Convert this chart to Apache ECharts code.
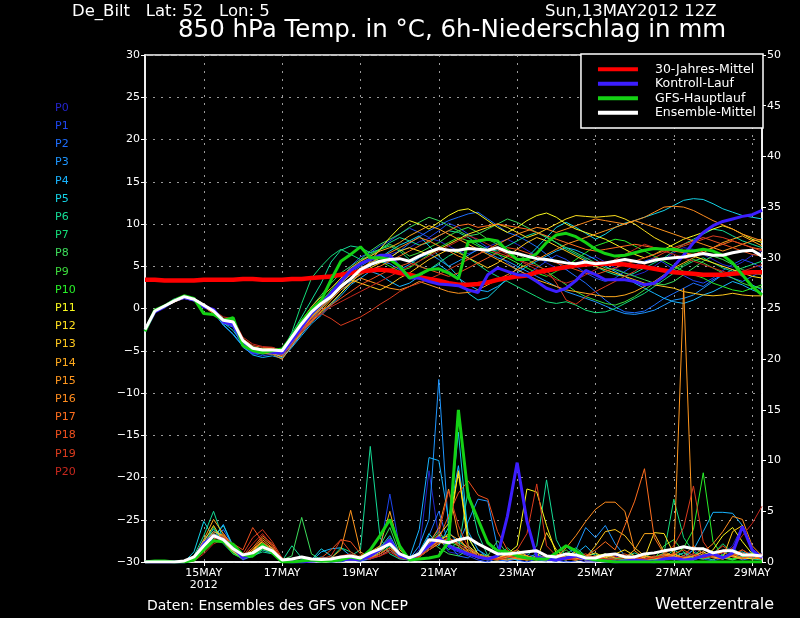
<!DOCTYPE html>
<html><head><meta charset="utf-8">
<script src="https://cdn.jsdelivr.net/npm/echarts@6/dist/echarts.min.js"></script>
<style>html,body{margin:0;padding:0;background:#000;}#c{width:800px;height:618px;}</style>
</head><body><div id="c"></div>
<script>
// ---- time axis: 13 MAY 2012 12Z, every 6 h ----
const startDay = 13, startHour = 12, stepHours = 6, nSteps = 64;
const categories = [];
for (let i = 0; i < nSteps; i++) {
  const h = startHour + i * stepHours;
  categories.push((startDay + Math.floor(h / 24)) + 'MAY ' + (h % 24) + 'Z');
}
const firstLabelIndex = 6, labelEvery = 8, yearLabel = '2012';

const memberNames = ['P0','P1','P2','P3','P4','P5','P6','P7','P8','P9','P10','P11','P12','P13','P14','P15','P16','P17','P18','P19','P20'];
const memberColors = ['#2424cc','#1e46f0','#1e6eff','#1e96ff','#18b4ff','#14d2e6','#14dc96','#14dc78','#3cdc5a','#3cdc3c','#28f028','#fafa1e','#ffe11e','#ffc81e','#ffaa1e','#ff961e','#ff8c1e','#ff6e1e','#f0501e','#dc3c1e','#c8281e'];

// ---- 850 hPa temperature (°C) ----
const tempClimate = [3.4,3.4,3.3,3.3,3.3,3.3,3.4,3.4,3.4,3.4,3.5,3.5,3.4,3.4,3.4,3.5,
 3.5,3.6,3.7,3.8,4.0,4.2,4.4,4.5,4.6,4.5,4.2,4.0,3.7,3.5,3.3,3.0,
 2.8,2.8,2.9,3.1,3.4,3.6,3.8,3.9,4.3,4.5,4.7,4.9,5.1,5.2,5.3,5.3,
 5.3,5.2,5.0,4.9,4.7,4.5,4.3,4.2,4.1,4.0,4.0,4.0,4.1,4.2,4.3,4.3];
const tempControl = [-2.6,-0.4,0.2,1.0,1.3,1.0,0.2,-0.1,-1.6,-1.9,-4.2,-5.2,-5.0,-5.2,-5.3,-3.8,
 -2.2,-0.6,0.6,1.8,3.2,4.5,5.3,5.8,6.3,6.3,4.9,3.6,3.6,3.2,2.9,2.8,
 2.7,2.2,1.9,4.0,4.8,4.4,4.0,3.9,3.2,2.4,2.0,2.4,3.3,4.5,4.0,3.4,
 3.4,3.4,3.2,2.8,3.0,3.8,5.0,6.3,7.8,9.0,9.8,10.3,10.6,10.9,11.1,11.6];
const tempGfs = [-2.7,-0.2,0.3,1.0,1.5,1.2,-0.6,-0.7,-1.4,-1.1,-4.4,-5.0,-5.2,-5.0,-4.8,-3.3,
 -1.5,-0.1,1.0,3.4,5.6,6.4,7.3,6.0,6.0,5.8,5.0,3.6,4.0,4.6,4.7,4.2,
 3.5,7.9,8.0,8.2,8.0,6.8,5.8,5.8,6.5,7.8,8.7,8.9,8.5,7.8,7.0,6.5,
 6.2,6.3,6.6,6.9,7.1,7.0,7.0,6.8,6.8,7.0,6.8,6.3,5.4,4.0,2.6,1.6];
const tempMean = [-2.5,-0.3,0.3,0.9,1.4,1.1,0.4,-0.3,-1.4,-1.6,-3.8,-4.7,-4.9,-4.9,-5.0,-3.4,
 -1.8,-0.4,0.6,1.4,2.6,3.5,4.6,5.2,5.6,5.8,5.9,5.6,6.2,6.7,7.1,6.9,
 6.9,7.1,7.0,6.9,7.2,6.7,6.5,6.2,5.9,5.8,5.6,5.4,5.3,5.5,5.3,5.4,
 5.6,5.8,5.6,5.4,5.7,5.9,6.0,6.1,6.3,6.5,6.3,6.3,6.6,6.8,6.9,6.2];

const tempP0 = [-2.6,-0.5,0.2,0.8,1.3,1.0,0.5,-0.2,-1.3,-1.8,-4.0,-4.9,-5.1,-5.0,-5.2,-3.6,
 -2.0,-0.5,0.4,1.2,2.4,3.4,4.5,5.5,6.0,6.4,6.8,7.2,7.9,8.3,8.0,7.4,
 6.8,6.5,6.9,7.3,7.8,8.2,7.6,6.9,6.2,5.4,4.8,4.6,5.2,5.9,6.1,5.5,
 4.8,4.2,3.9,4.3,5.0,5.8,6.6,7.2,7.0,6.4,5.8,5.2,4.9,5.5,6.3,6.8];
const tempP1 = [-2.5,-0.4,0.3,1.0,1.5,1.2,0.3,-0.5,-1.6,-2.1,-4.3,-5.3,-5.6,-5.4,-5.5,-4.0,
 -2.6,-1.2,0.2,1.6,3.4,5.0,6.1,6.6,7.4,8.0,8.8,9.5,9.0,8.4,9.2,10.1,
 9.6,8.8,8.0,7.2,6.5,5.4,4.6,4.0,4.8,5.6,6.3,5.8,5.0,4.2,3.6,3.2,
 3.6,4.4,5.1,5.6,6.0,5.4,4.6,3.9,3.3,3.0,3.6,4.5,5.2,5.8,5.4,4.8];
const tempP2 = [-2.7,-0.3,0.4,1.1,1.4,1.0,0.2,-0.6,-1.8,-2.2,-4.6,-5.4,-5.2,-5.1,-5.6,-4.3,
 -2.8,-1.4,0.0,1.3,2.8,4.2,5.0,5.7,6.3,6.0,6.8,7.7,8.5,9.2,9.8,10.4,
 10.8,11.2,11.4,10.6,9.8,9.0,8.6,8.0,7.3,6.4,5.5,4.6,3.8,3.0,2.0,1.0,
 0.2,-0.4,-0.5,-0.3,0.4,1.2,1.8,2.4,3.0,2.6,3.4,4.0,3.6,3.2,3.8,4.4];
const tempP3 = [-2.6,-0.4,0.2,0.9,1.3,1.1,0.4,-0.4,-2.0,-3.0,-4.4,-5.0,-5.0,-5.3,-5.8,-4.5,
 -3.0,-1.6,-0.6,0.6,1.8,3.2,4.0,5.1,5.6,5.3,4.6,5.2,6.0,6.5,5.8,5.0,
 5.6,6.3,7.0,6.6,6.0,5.6,5.0,4.4,3.8,3.2,2.6,2.0,1.6,1.2,0.8,0.3,
 -0.2,-0.6,-0.7,-0.5,-0.2,0.4,1.0,1.2,1.6,2.4,3.2,4.0,4.6,3.8,2.8,2.2];
const tempP4 = [-2.5,-0.2,0.4,0.9,1.3,1.0,0.3,-0.4,-1.9,-3.1,-4.5,-5.5,-5.8,-5.6,-5.9,-4.6,
 -3.2,-1.8,-0.8,0.4,1.5,2.8,3.6,4.4,4.0,3.2,2.6,3.0,3.8,4.6,5.2,4.4,
 3.6,2.8,2.2,2.0,2.6,3.4,4.2,5.0,5.6,6.2,6.8,7.2,6.9,6.4,5.8,5.0,
 4.4,3.8,3.0,2.4,1.8,1.2,0.8,0.6,1.0,1.6,2.0,2.6,3.2,2.8,2.2,1.8];
const tempP5 = [-2.6,-0.3,0.3,0.8,1.2,0.9,0.2,-0.5,-1.7,-2.6,-4.2,-5.1,-5.4,-5.2,-5.3,-3.8,
 -2.2,-0.8,0.4,1.8,3.0,4.0,4.6,5.3,6.0,6.8,7.5,8.0,8.6,7.4,6.2,5.0,
 3.8,1.8,1.0,1.3,2.4,3.6,4.8,6.0,7.2,8.4,9.6,10.2,9.6,8.9,8.2,8.8,
 9.6,10.1,10.4,10.8,11.2,11.6,12.2,12.8,13.0,12.9,12.4,11.8,11.4,11.0,10.8,10.6];
const tempP6 = [-2.4,-0.2,0.4,1.0,1.5,1.2,0.5,-0.2,-1.2,-1.4,-3.6,-4.5,-4.8,-4.8,-4.9,-3.0,
 -1.0,1.0,3.0,5.5,6.9,7.4,7.2,6.6,7.0,7.8,8.4,8.0,7.5,7.8,8.6,9.2,
 9.0,8.4,7.6,7.0,6.8,7.4,8.0,8.6,9.0,8.5,7.8,7.0,6.4,5.8,5.0,4.4,
 4.0,3.8,4.2,4.8,5.4,6.0,6.8,7.6,8.2,8.8,9.4,9.2,8.6,8.0,7.6,7.2];
const tempP7 = [-2.5,-0.3,0.3,0.9,1.4,1.2,0.5,-0.3,-1.3,-1.5,-3.7,-4.6,-4.9,-5.0,-5.1,-2.8,
 0.6,3.6,5.0,6.2,7.0,6.4,5.8,6.2,7.0,7.4,6.8,5.8,5.0,4.6,5.4,6.2,
 6.8,6.0,5.2,4.4,3.8,3.2,2.6,2.0,1.4,0.8,0.6,0.8,0.4,-0.2,-0.5,-0.4,
 0.0,0.6,1.2,1.8,2.6,3.4,4.2,5.0,5.6,6.0,5.4,4.8,4.4,4.8,5.2,5.6];
const tempP8 = [-2.6,-0.4,0.2,0.8,1.3,1.1,0.4,-0.4,-1.5,-1.8,-3.9,-4.8,-5.0,-4.9,-5.3,-3.6,
 -1.6,0.2,1.6,3.0,4.2,5.0,5.8,6.8,7.6,8.2,8.8,9.6,10.2,10.8,10.4,9.8,
 9.2,8.6,8.8,9.4,10.0,10.6,10.2,9.6,9.0,8.4,7.8,7.2,6.6,6.0,5.4,4.8,
 4.6,4.2,3.8,3.4,3.0,2.8,3.2,4.0,4.8,5.6,6.2,5.8,5.2,4.6,4.2,4.0];
const tempP9 = [-2.5,-0.2,0.4,1.0,1.4,1.1,0.3,-0.4,-1.4,-1.7,-3.9,-4.8,-5.0,-5.0,-5.4,-3.8,
 -2.2,-0.6,0.8,2.0,3.2,4.4,5.6,6.4,7.0,7.6,7.0,6.2,6.6,7.2,7.8,8.6,
 9.2,9.6,9.0,8.2,7.6,7.0,6.4,5.8,5.2,4.4,3.6,2.8,2.0,1.4,1.0,0.6,
 0.4,0.8,1.4,2.2,3.0,3.8,4.6,5.2,5.8,5.4,4.8,4.2,3.6,3.0,2.6,2.4];
const tempP10 = [-2.4,-0.2,0.3,0.9,1.4,1.2,0.5,-0.2,-1.2,-1.5,-3.7,-4.6,-4.8,-4.9,-5.1,-3.5,
 -1.9,-0.4,0.8,2.2,3.6,4.8,5.4,6.0,5.6,5.0,4.4,4.8,5.6,6.4,7.2,7.8,
 8.4,8.0,7.4,6.8,6.4,6.0,5.4,4.8,4.2,3.8,4.4,5.0,5.8,6.6,7.4,7.8,
 8.2,8.0,7.4,6.8,6.2,5.6,5.0,4.4,4.0,3.6,3.0,2.6,2.2,2.0,2.4,2.8];
const tempP11 = [-2.6,-0.3,0.3,0.9,1.4,1.1,0.3,-0.5,-1.5,-1.9,-4.1,-5.0,-5.2,-5.1,-5.5,-4.1,
 -2.8,-1.6,-0.4,0.6,1.8,3.0,4.2,5.6,7.0,8.4,9.6,10.4,10.0,9.4,10.2,11.0,
 11.6,11.8,11.2,10.4,9.6,9.0,9.6,10.4,11.0,11.3,10.8,10.0,9.4,9.0,8.6,8.2,
 7.6,7.0,6.4,6.0,6.4,7.0,7.6,8.2,8.6,9.0,9.4,9.8,9.4,8.8,8.2,7.8];
const tempP12 = [-2.5,-0.4,0.3,1.0,1.5,1.2,0.4,-0.3,-1.4,-1.7,-3.9,-4.8,-5.0,-5.1,-5.3,-3.9,
 -2.4,-1.0,0.2,1.6,2.8,3.6,4.2,4.8,5.4,6.0,6.8,7.2,6.8,6.4,7.0,7.6,
 8.2,8.8,9.2,9.6,10.0,9.6,9.0,8.4,8.8,9.4,10.0,10.6,11.0,10.9,10.8,10.9,
 11.0,10.6,10.0,9.2,8.4,7.8,7.2,6.6,6.2,5.8,5.4,5.0,4.6,4.2,3.8,3.6];
const tempP13 = [-2.6,-0.3,0.2,0.8,1.3,1.0,0.3,-0.4,-1.6,-1.8,-4.0,-4.9,-5.2,-5.3,-5.7,-4.0,
 -2.5,-1.1,0.0,1.2,2.4,3.4,3.0,2.6,2.2,2.8,3.6,4.2,5.0,5.8,6.4,7.0,
 6.6,6.0,5.4,4.8,5.4,6.2,7.0,7.8,8.4,8.0,7.4,6.8,6.2,5.6,5.0,4.6,
 4.2,3.8,3.4,3.0,2.8,2.6,2.4,2.0,1.8,1.6,1.5,1.6,1.8,1.6,1.5,1.5];
const tempP14 = [-2.5,-0.3,0.3,0.9,1.4,1.1,0.4,-0.3,-1.4,-1.6,-3.8,-4.6,-4.8,-4.7,-5.0,-3.2,
 -1.4,0.2,1.4,2.4,3.6,4.8,5.6,6.2,6.8,7.2,7.8,8.6,9.2,9.8,9.4,8.8,
 8.2,7.6,7.0,6.4,5.8,5.2,4.6,4.0,3.4,3.0,2.6,2.2,2.0,1.8,1.6,1.4,
 1.4,1.6,2.0,2.6,3.2,4.0,4.8,5.4,6.0,6.6,7.2,7.8,8.2,8.6,8.0,7.4];
const tempP15 = [-2.6,-0.4,0.2,0.8,1.3,1.0,0.2,-0.6,-1.7,-2.0,-4.2,-5.1,-5.3,-5.4,-6.0,-4.4,
 -2.9,-1.5,-0.3,1.0,2.2,3.0,3.6,3.2,2.8,2.4,2.2,2.6,3.2,2.8,2.4,2.0,
 1.8,1.9,2.2,2.8,3.4,4.0,4.6,5.2,5.8,6.4,7.0,7.6,8.0,8.4,8.8,9.2,
 9.6,10.0,10.4,10.0,9.6,9.2,8.8,8.4,8.0,7.6,7.2,6.8,7.2,7.6,8.0,8.2];
const tempP16 = [-2.5,-0.3,0.3,0.9,1.4,1.2,0.5,-0.2,-1.3,-1.5,-3.7,-4.6,-4.9,-5.0,-5.2,-3.7,
 -2.0,-0.6,0.6,1.8,3.0,4.0,4.8,5.4,6.0,6.6,7.2,7.8,8.4,8.0,7.4,6.8,
 6.2,5.8,6.4,7.0,7.6,8.2,8.8,9.2,9.6,9.4,9.0,9.4,9.8,10.2,10.6,10.4,
 10.2,10.0,10.4,10.8,11.4,12.0,12.1,12.0,11.6,11.0,10.4,9.9,9.4,8.8,8.4,8.0];
const tempP17 = [-2.6,-0.4,0.2,0.9,1.3,1.0,0.3,-0.4,-1.5,-1.7,-3.9,-4.8,-5.1,-5.1,-5.4,-3.9,
 -2.4,-1.0,0.2,1.4,2.6,3.4,4.0,4.6,5.0,5.6,6.2,6.8,7.4,8.0,8.6,9.2,
 9.8,10.0,9.6,9.8,10.0,9.8,9.6,9.4,9.0,8.6,8.2,7.8,7.4,7.0,6.8,7.0,
 7.2,7.4,7.6,7.4,7.2,7.0,6.8,6.6,6.4,6.8,7.2,7.6,8.0,7.6,7.2,7.0];
const tempP18 = [-2.5,-0.3,0.2,0.8,1.2,0.9,0.2,-0.5,-1.2,-1.4,-3.6,-4.4,-4.6,-4.6,-5.0,-3.8,
 -2.6,-1.4,-0.2,0.4,1.2,2.0,2.8,3.4,4.0,4.6,5.0,5.4,5.0,4.6,4.2,3.8,
 4.2,4.8,5.4,6.0,6.6,7.2,7.0,6.6,6.2,5.8,5.4,5.0,4.6,4.2,4.0,4.4,
 4.8,5.2,5.6,6.0,6.4,6.8,7.2,7.6,8.0,8.4,8.0,7.6,7.2,6.8,6.4,6.2];
const tempP19 = [-2.6,-0.4,0.2,0.8,1.3,1.0,0.3,-0.3,-1.4,-1.6,-3.8,-4.8,-5.0,-5.0,-5.6,-4.2,
 -2.6,-1.2,-0.6,-1.2,-2.0,-1.5,-1.0,-0.3,0.5,1.2,2.0,2.6,3.0,3.5,4.0,4.6,
 5.2,5.8,6.4,7.0,6.6,6.2,5.8,5.4,5.0,4.6,3.0,1.0,0.5,1.4,2.0,2.6,
 3.2,3.8,4.4,5.2,6.0,6.6,7.0,7.4,7.8,8.2,8.6,8.4,8.0,7.6,7.2,6.8];
const tempP20 = [-2.5,-0.3,0.3,0.9,1.3,1.1,0.4,-0.2,-1.0,-1.2,-3.4,-4.2,-4.5,-4.6,-5.0,-3.8,
 -2.8,-1.6,-0.6,0.2,0.8,1.4,2.0,2.6,3.2,3.8,4.4,5.0,5.6,6.2,6.8,7.4,
 8.0,8.6,8.2,7.6,7.0,6.4,5.8,5.2,4.6,4.0,3.4,3.0,3.4,4.0,4.6,5.2,
 5.8,6.4,7.0,7.6,7.2,6.8,6.4,6.0,5.6,5.2,4.8,4.4,4.0,4.4,4.8,5.2];

// ---- 6h precipitation (mm) ----
const rainControl = [0,0,0,0,0,0.3,1.8,2.6,2.2,1.4,0.4,0.8,1.6,1.0,0.1,0,
 0,0.1,0.2,0.1,0.2,0.3,0.2,0.6,1.2,2.2,0.6,0.3,0.8,1.6,2.4,1.6,
 1.2,0.8,0.5,0.3,0.6,4.5,9.8,4.0,0.5,0.3,0.2,0.4,0.6,0.3,0.2,0.1,
 0,0.1,0.2,0.1,0,0.3,0.4,0.2,0.3,0.6,0.8,0.4,0.9,3.5,1.2,0.4];
const rainGfs = [0,0.1,0.1,0,0,0.2,1.2,2.1,2.0,1.75,0.7,0.6,1.75,0.9,0,0,
 0.1,0.2,0.1,0.1,0.2,0.5,0.3,1.2,2.6,4.2,1.6,0.2,0.3,0.4,0.6,2.0,
 15.0,6.5,4.2,1.9,1.1,1.0,0.6,0.4,0.3,0.3,0.9,1.6,1.1,0.4,0.2,0.1,
 0,0,0,0,0,0,0,0,0,0,0,0,0,0,0,0];
const rainMean = [0,0,0,0,0.1,0.5,1.6,2.6,2.2,1.3,0.7,0.9,1.5,1.1,0.2,0.3,
 0.5,0.3,0.25,0.3,0.5,0.6,0.4,0.9,1.3,1.8,0.8,0.4,0.8,2.2,2.1,1.9,
 2.2,2.4,1.8,1.3,0.8,0.8,0.9,1.0,1.1,0.6,0.5,0.8,0.7,0.4,0.4,0.7,
 0.8,0.5,0.5,0.8,0.9,1.1,1.25,1.5,1.3,1.3,0.9,1.1,1.1,0.7,0.7,0.6];

const rainP0 = [0,0,0,0,0,0.3,1.5,2.6,2.0,1.2,0.4,0.8,1.4,1.0,0.2,0,
 0.2,0,0,0.1,0.3,0.5,0.2,0.6,1.0,1.8,0.6,0.2,1.2,9.0,2.4,1.0,
 0.8,1.6,0.6,0.2,0.3,0.1,0.4,0.8,0.4,0.2,0.1,0.5,0.3,0,0,0.2,
 0.6,0.2,0,0.1,0.4,0.8,0.3,0.6,1.2,0.4,0.2,0.8,1.6,3.6,1.0,0.3];
const rainP1 = [0,0,0,0,0,0.5,2.0,3.0,2.4,1.0,0.2,0.6,1.2,0.8,0,0,
 0,0.1,0.2,0,0,0.3,0.2,0.4,1.2,6.7,1.4,0.3,0.6,2.0,3.2,1.4,
 1.0,0.6,0.2,0,0.4,0.8,0.2,0,0.3,0.6,0.2,0,0.1,0.6,0.2,0,
 0,0.2,0.4,0.1,0,0.6,0.2,0.4,0.8,0.3,0.1,0.4,0.9,0.4,1.2,0.6];
const rainP2 = [0,0,0,0,0,0.4,1.8,2.2,3.2,1.6,0.5,1.0,1.6,1.2,0.2,0,
 0.1,0.3,0.1,0,0.2,0.2,0.1,0.3,0.6,1.2,0.4,0.2,0.8,2.6,5.0,1.8,
 0.6,0.4,1.2,0.4,0.2,0.1,0.3,0.6,0.2,0.1,0.8,1.6,0.6,0.3,0.2,0.1,
 0.2,0.5,0.2,0,0.3,0.7,0.4,0.2,0.6,1.0,0.5,0.3,0.6,0.2,0.4,0.9];
const rainP3 = [0,0,0,0,0,0.2,1.4,2.4,3.7,1.4,0.3,0.7,1.8,1.3,0.1,0,
 0,0.2,0.5,0.3,0.1,0.2,0.3,0.8,1.4,2.6,0.8,0.3,1.6,4.2,18.0,3.0,
 1.8,4.0,6.2,6.0,1.4,0.4,0.2,0.3,0.6,0.2,0.1,0.4,1.2,3.4,2.4,3.6,
 1.8,0.6,0.2,0.3,0.5,0.8,0.4,0.3,0.2,0.6,1.0,0.5,0.2,0.6,0.4,0.3];
const rainP4 = [0,0,0,0,0,0.4,2.2,3.2,2.6,1.5,0.6,0.9,1.6,1.4,0.2,0,
 0,0.1,1.0,1.3,1.4,0.6,0.2,0.4,1.0,2.0,0.6,0.4,3.2,10.3,10.0,4.2,
 9.5,3.0,1.2,0.6,0.3,0.2,0.5,0.4,0.2,0.6,0.3,0.2,0.8,1.6,0.6,0.4,
 0.3,0.2,0.6,0.4,0.2,0.3,0.8,0.4,1.2,3.0,4.9,4.9,4.8,3.6,1.0,0.4];
const rainP5 = [0,0,0,0,0,1.0,4.0,2.4,3.6,1.6,0.4,1.0,1.8,1.2,0.3,0,
 0.1,0.2,1.3,0.6,0.2,0.3,0.2,0.6,1.4,1.6,0.4,0.2,1.0,2.8,1.6,3.4,
 12.8,2.4,0.8,0.3,0.2,0.5,0.2,0.4,0.8,0.3,0.2,0.6,0.4,0.2,0.5,0.8,
 0.4,0.2,0.3,0.6,0.3,0.2,0.5,0.9,0.4,0.3,0.6,0.4,0.8,1.0,0.6,0.4];
const rainP6 = [0,0,0,0,0,0.6,2.6,5.0,2.2,1.0,0.3,0.6,1.0,0.8,0.1,1.6,
 0.4,0.1,0,0.2,0.3,0.6,1.2,11.4,2.4,0.8,0.3,0.2,0.6,1.4,2.6,1.8,
 1.2,7.1,2.8,0.6,0.3,0.8,0.4,0.6,1.6,8.1,2.2,0.4,0.2,0.6,0.8,0.3,
 0.2,0.5,0.9,0.4,0.2,0.4,1.2,0.6,0.3,0.5,0.2,0.7,1.4,0.6,0.3,0.2];
const rainP7 = [0,0,0,0,0,0.3,1.6,3.4,1.8,0.8,0.4,0.5,1.2,0.9,0.1,0,
 0.2,0.3,0.1,0.4,1.4,1.0,0.3,0.4,0.8,1.6,0.4,0.2,0.5,1.2,2.2,1.2,
 2.0,1.4,0.8,0.4,0.6,1.4,0.6,0.3,0.2,0.4,0.3,0.8,1.4,0.6,0.2,0.4,
 0.8,0.3,0.6,0.2,0.4,0.9,6.2,2.4,1.0,0.4,0.8,1.8,0.9,0.4,0.6,0.3];
const rainP8 = [0,0,0,0,0,0.2,1.4,2.8,2.2,1.0,0.3,0.8,1.5,1.0,0.2,0.6,
 4.4,0.8,0.2,0.1,0.3,0.2,0.1,0.6,1.6,3.4,0.8,0.3,1.0,2.2,1.4,0.8,
 0.6,1.2,0.8,0.6,2.1,0.8,0.4,0.2,0.3,0.6,0.4,0.2,0.6,0.3,0.2,0.1,
 0.3,0.6,0.2,0.1,0.4,0.8,0.5,0.3,0.6,1.4,0.8,0.4,0.3,0.6,0.9,0.4];
const rainP9 = [0,0,0,0,0,0.3,1.8,2.4,2.6,1.2,0.4,0.8,1.6,1.1,0.2,0,
 0,0.2,0.4,0.1,0.2,0.3,0.4,0.8,1.4,2.4,0.6,0.2,0.8,1.8,3.0,1.6,
 1.4,0.8,0.4,0.2,0.4,0.3,0.8,0.6,0.3,0.2,0.6,1.2,0.4,0.2,0.3,0.6,
 0.4,0.2,0.4,0.8,0.3,1.6,2.2,1.0,0.4,0.3,0.6,0.4,0.2,0.5,0.8,0.3];
const rainP10 = [0,0,0,0,0,0.2,1.2,2.6,2.0,0.8,0.3,0.6,1.3,1.0,0.1,0,
 0.1,0.2,0.1,0.2,0.4,0.3,0.2,0.5,1.0,1.8,0.5,0.3,0.6,1.4,2.4,2.0,
 1.6,1.0,0.6,0.3,0.2,0.4,0.6,0.3,0.2,0.5,0.8,0.4,0.2,0.3,0.6,0.4,
 0.2,0.4,0.6,0.3,0.5,0.8,0.6,1.4,3.2,8.8,2.0,0.6,0.3,0.4,0.6,0.2];
const rainP11 = [0,0,0,0,0,0.3,1.6,2.4,2.2,1.4,0.5,1.2,2.0,1.0,0.2,0,
 0,0.1,0.2,0.1,0.3,0.4,0.2,0.4,0.8,1.4,0.6,0.2,0.8,1.6,2.6,3.8,
 8.8,2.4,0.8,0.4,0.3,0.8,1.6,7.2,6.9,3.6,0.8,0.3,0.2,0.4,0.6,0.8,
 0.4,0.6,0.3,0.2,0.4,0.6,0.8,0.4,0.3,0.6,1.2,2.6,3.4,2.0,0.8,0.4];
const rainP12 = [0,0,0,0,0,0.4,2.0,3.6,2.0,1.0,0.4,0.8,1.4,0.9,0.2,0,
 0.1,0.3,0.2,0.1,0.2,0.3,0.4,0.6,1.2,2.0,0.8,0.3,0.6,1.8,2.2,2.6,
 9.0,1.6,0.8,0.4,0.3,0.6,0.8,0.4,0.2,2.9,1.2,0.4,0.3,0.6,0.9,0.4,
 0.8,1.2,0.6,0.4,2.9,2.8,0.8,0.4,0.6,1.0,0.5,0.3,0.6,0.4,0.3,0.5];
const rainP13 = [0,0,0,0,0,0.3,1.8,3.0,2.6,1.2,0.3,0.9,1.8,1.4,0.2,0,
 0.1,0.2,0.1,0.3,0.2,0.6,0.3,0.5,1.0,1.8,0.6,0.2,0.5,1.2,1.8,2.4,
 1.6,0.9,0.5,0.3,0.4,0.8,1.2,0.6,0.3,0.4,0.2,0.6,1.0,0.4,1.6,3.0,
 3.2,2.6,1.4,0.6,0.4,0.8,0.6,0.3,0.4,0.8,0.6,0.4,3.0,3.6,1.2,0.5];
const rainP14 = [0,0,0,0,0,0.4,2.2,4.2,2.8,1.4,0.4,1.0,2.0,1.2,0.2,0,
 0,0.1,0.2,0.3,0.1,0.4,0.6,1.0,1.6,5.0,1.2,0.4,0.8,1.6,2.0,2.8,
 2.2,1.4,0.6,0.3,0.2,0.5,0.8,0.6,0.3,0.2,0.6,0.8,0.4,0.2,0.3,0.5,
 0.8,0.4,1.2,2.8,2.8,1.0,0.6,0.3,0.2,0.6,0.8,0.4,0.6,1.2,0.6,0.3];
const rainP15 = [0,0,0,0,0,0.2,1.4,2.6,2.4,1.6,0.6,1.0,2.2,1.4,0.2,0,
 0,0.1,0.2,0.4,1.2,5.1,1.0,0.4,0.8,1.4,0.6,0.4,0.8,1.8,3.4,7.2,
 2.6,1.0,0.6,0.3,0.4,0.6,0.3,0.2,0.6,0.4,0.2,0.3,0.6,0.4,0.2,0.6,
 0.8,0.4,0.3,0.6,0.4,0.2,0.6,27.0,0.8,0.4,0.6,1.0,0.5,0.3,0.6,0.4];
const rainP16 = [0,0,0,0,0,0.3,1.6,2.8,2.2,1.2,0.5,1.2,2.4,1.6,0.3,0,
 0.1,0.2,0.3,0.1,0.2,0.4,0.3,0.6,1.2,2.2,0.6,0.3,0.8,1.4,2.0,1.6,
 1.2,0.8,0.4,0.6,0.3,0.2,0.4,0.6,0.3,0.2,0.5,1.4,2.6,4.0,5.2,5.9,
 5.9,5.0,1.1,0.4,0.3,0.6,0.8,0.4,0.6,1.0,1.8,3.0,4.5,4.2,1.6,0.6];
const rainP17 = [0,0,0,0,0,0.2,1.2,2.2,2.8,1.6,0.6,1.4,2.6,1.8,0.2,0,
 0,0.2,0.4,0.2,0.3,0.2,0.4,0.8,1.4,2.0,0.8,0.4,0.6,1.2,1.8,2.4,
 1.8,1.2,0.6,0.4,0.3,0.6,0.4,0.2,0.3,0.5,0.8,0.4,0.2,0.6,1.2,2.0,
 1.2,3.6,6.0,9.2,2.4,0.8,0.4,0.6,1.6,0.8,0.4,0.3,0.6,0.9,0.4,0.3];
const rainP18 = [0,0,0,0,0,0.2,1.0,2.0,2.4,1.8,1.2,3.4,2.0,1.2,0.3,0,
 0.1,0.2,0.4,1.2,2.2,2.0,0.8,0.4,0.6,1.2,0.4,0.2,0.6,1.4,2.2,4.6,
 6.8,8.0,6.6,6.2,3.0,1.2,0.6,0.4,0.3,0.6,0.4,0.2,0.5,0.8,0.4,0.3,
 0.6,0.8,0.4,0.3,0.6,0.4,0.8,1.2,0.6,0.4,0.8,1.6,0.8,0.4,0.6,0.8];
const rainP19 = [0,0,0,0,0,0.2,1.2,2.2,2.6,1.4,0.8,2.4,3.2,2.0,0.4,0,
 0,0.1,0.3,0.6,2.2,1.0,0.4,0.3,0.8,1.4,0.6,0.3,0.6,1.6,2.8,7.0,
 3.6,1.4,0.8,0.4,0.3,0.6,1.2,2.8,7.7,1.6,0.6,0.3,0.4,0.6,0.3,0.2,
 0.4,0.6,0.3,0.2,0.4,0.8,1.6,3.4,7.5,2.0,0.6,0.4,0.8,1.2,0.6,0.4];
const rainP20 = [0,0,0,0,0,0.1,0.8,1.8,2.2,1.4,0.6,1.8,2.8,1.6,0.3,0,
 0.1,0.2,0.2,0.4,0.6,0.8,0.4,0.3,0.6,1.0,0.4,0.2,0.5,1.2,2.0,2.4,
 1.6,1.0,0.6,0.3,0.2,0.4,0.6,0.3,0.2,0.4,0.6,0.3,0.2,0.4,0.6,0.3,
 0.2,0.4,0.6,0.3,0.4,0.6,0.3,0.5,0.8,0.4,0.6,0.9,1.4,2.6,3.8,5.5];

const memberTemps = [tempP0,tempP1,tempP2,tempP3,tempP4,tempP5,tempP6,tempP7,tempP8,tempP9,tempP10,tempP11,tempP12,tempP13,tempP14,tempP15,tempP16,tempP17,tempP18,tempP19,tempP20];
const memberRains = [rainP0,rainP1,rainP2,rainP3,rainP4,rainP5,rainP6,rainP7,rainP8,rainP9,rainP10,rainP11,rainP12,rainP13,rainP14,rainP15,rainP16,rainP17,rainP18,rainP19,rainP20];

const FONT = '"DejaVu Sans", "Liberation Sans", sans-serif';
const minus = v => String(v).replace('-', '\u2212');
const onLabel = (idx) => idx >= firstLabelIndex && (idx - firstLabelIndex) % labelEvery === 0;

const series = [];
memberNames.forEach((n, k) => {
  series.push({ name: n, type: 'line', yAxisIndex: 0, data: memberTemps[k], symbol: 'none', z: 2,
    lineStyle: { width: 1, color: memberColors[k] }, itemStyle: { color: memberColors[k] } });
  series.push({ name: n, type: 'line', yAxisIndex: 1, data: memberRains[k], symbol: 'none', z: 2,
    lineStyle: { width: 1, color: memberColors[k] }, itemStyle: { color: memberColors[k] } });
});
const main = [
  ['30-Jahres-Mittel', '#ff0000', 4.5, tempClimate, null, 3],
  ['Kontroll-Lauf', '#3c1eff', 3, tempControl, rainControl, 4],
  ['GFS-Hauptlauf', '#14d214', 3, tempGfs, rainGfs, 5],
  ['Ensemble-Mittel', '#ffffff', 3, tempMean, rainMean, 6]
];
main.forEach(([n, c, w, t, r, z]) => {
  series.push({ name: n, type: 'line', yAxisIndex: 0, data: t, symbol: 'none', z,
    lineStyle: { width: w, color: c }, itemStyle: { color: c } });
  if (r) series.push({ name: n, type: 'line', yAxisIndex: 1, data: r, symbol: 'none', z,
    lineStyle: { width: w, color: c }, itemStyle: { color: c } });
});

const graphic = [
  { type: 'text', left: 72, top: 3, style: { text: 'De_Bilt   Lat: 52   Lon: 5', fill: '#fff', font: '16.5px ' + FONT } },
  { type: 'text', left: 545, top: 3, style: { text: 'Sun,13MAY2012 12Z', fill: '#fff', font: '16.5px ' + FONT } },
  { type: 'text', left: 178, top: 18, style: { text: '850 hPa Temp. in \u00B0C, 6h-Niederschlag in mm', fill: '#fff', font: '24.5px ' + FONT } },
  { type: 'text', left: 147, top: 599, style: { text: 'Daten: Ensembles des GFS von NCEP', fill: '#fff', font: '14px ' + FONT } },
  { type: 'text', left: 655, top: 597, style: { text: 'Wetterzentrale', fill: '#fff', font: '16px ' + FONT } }
];
memberNames.forEach((n, k) => {
  graphic.push({ type: 'text', left: 55, top: 102.5 + k * 18.2, style: { text: n, fill: memberColors[k], font: '11px ' + FONT } });
});

const chart = echarts.init(document.getElementById('c'));
chart.setOption({
  backgroundColor: '#000',
  animation: false,
  grid: { left: 145, right: 38, top: 55, bottom: 56, show: true, borderColor: '#fff', borderWidth: 1.5 },
  legend: {
    data: ['30-Jahres-Mittel', 'Kontroll-Lauf', 'GFS-Hauptlauf', 'Ensemble-Mittel'],
    orient: 'vertical', right: 37, top: 54, selectedMode: false,
    backgroundColor: '#000', borderColor: '#fff', borderWidth: 1.5, borderRadius: 0,
    padding: [8, 7, 8, 17], itemWidth: 40, itemHeight: 4, itemGap: 0, icon: 'rect',
    textStyle: { color: '#fff', fontSize: 12.5, fontFamily: FONT, lineHeight: 14.5, padding: [0, 0, 0, 12] }
  },
  xAxis: {
    type: 'category', data: categories, boundaryGap: false,
    axisLine: { onZero: false, lineStyle: { color: '#fff', width: 1.5 } },
    axisTick: { interval: onLabel, length: 4, lineStyle: { color: '#fff' } },
    axisLabel: { interval: onLabel, color: '#fff', fontSize: 11, fontFamily: FONT, margin: 5, lineHeight: 12,
      formatter: (v, idx) => { const d = v.split(' ')[0]; return idx === firstLabelIndex ? d + '\n' + yearLabel : d; } },
    splitLine: { show: true, interval: onLabel, lineStyle: { color: '#9a9a9a', type: [2, 6], width: 1 } }
  },
  yAxis: [
    { type: 'value', min: -30, max: 30, interval: 5, position: 'left',
      axisLine: { show: true, lineStyle: { color: '#fff', width: 1.5 } },
      axisTick: { show: true, length: 4, lineStyle: { color: '#fff' } },
      axisLabel: { color: '#fff', fontSize: 11, fontFamily: FONT, margin: 5, formatter: minus },
      splitLine: { show: true, lineStyle: { color: '#9a9a9a', type: [2, 6], width: 1 } } },
    { type: 'value', min: 0, max: 50, interval: 5, position: 'right',
      axisLine: { show: true, lineStyle: { color: '#fff', width: 1.5 } },
      axisTick: { show: true, length: 4, lineStyle: { color: '#fff' } },
      axisLabel: { color: '#fff', fontSize: 11, fontFamily: FONT, margin: 5 },
      splitLine: { show: false } }
  ],
  graphic,
  series
});
</script></body></html>
